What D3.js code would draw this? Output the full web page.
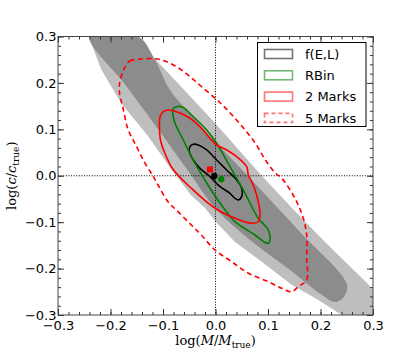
<!DOCTYPE html>
<html>
<head>
<meta charset="utf-8">
<script src="https://cdn.jsdelivr.net/npm/d3@7"></script>
<style>
  body { margin: 0; background: #fff; }
  svg text { font-family: "DejaVu Sans", sans-serif; }
</style>
</head>
<body>
<div id="chart"></div>
<script>
// ---- data (log M/Mtrue, log c/ctrue) ----
var lightBand = [[-0.2415,0.300],[-0.2181,0.230],[-0.180,0.1567],[-0.1286,0.0856],[-0.0848,0.0145],
  [-0.0467,-0.0415],[-0.020,-0.0695],[0.001,-0.0997],[0.0371,-0.1428],[0.0886,-0.1859],[0.1457,-0.2354],
  [0.1895,-0.2634],[0.241,-0.300],[0.300,-0.300],[0.300,-0.2461],[0.2905,-0.2332],[0.2086,-0.1428],
  [0.1457,-0.0695],[0.0886,-0.0005],[-0.001,0.1136],[-0.0524,0.1761],[-0.1095,0.2451],[-0.1419,0.286],[-0.1476,0.300]];

var darkBand = [[-0.2396,0.300],[-0.1724,0.1971],[-0.1095,0.1007],[-0.0467,0.0016],[-0.001,-0.0695],
  [0.0657,-0.1384],[0.1419,-0.2031],[0.2029,-0.2569],[0.2276,-0.272],[0.2429,-0.2634],[0.2505,-0.2354],
  [0.161,-0.1212],[0.060,0.0016],[0.0143,0.0555],[-0.0429,0.1266],[-0.0867,0.1847],[-0.1152,0.2494],[-0.1476,0.300]];

var fEL = [[-0.0486,0.0626],[-0.0423,0.0678],[-0.0328,0.0662],[-0.0168,0.0555],[0.0023,0.0339],[0.0213,0.0124],
  [0.0404,-0.0091],[0.0499,-0.027],[0.0499,-0.0451],[0.0434,-0.0522],[0.0371,-0.0486],[0.0276,-0.0378],
  [0.0086,-0.0236],[-0.0105,-0.002],[-0.0295,0.016],[-0.0423,0.0339],[-0.0499,0.0518]];

var rBin = [[-0.0804,0.1453],[-0.0644,0.1488],[-0.0423,0.1272],[-0.0168,0.0986],[0.0023,0.0699],[0.0276,0.0195],
  [0.053,-0.0307],[0.0815,-0.0917],[0.1006,-0.1169],[0.1038,-0.1384],[0.1006,-0.1455],[0.0943,-0.1438],
  [0.0752,-0.1276],[0.0371,-0.099],[0.0086,-0.0587],[-0.0168,-0.0156],[-0.0423,0.0339],[-0.0613,0.077],
  [-0.0771,0.113],[-0.0815,0.1345]];

var twoMarks = [[-0.0994,0.138],[-0.0899,0.1416],[-0.0739,0.138],[-0.0486,0.1238],[-0.0295,0.1057],[-0.0105,0.0807],
  [0.0023,0.0662],[0.0213,0.0555],[0.0404,0.041],[0.0594,0.0195],[0.0625,0.0016],[0.072,-0.0199],[0.0815,-0.0559],
  [0.0848,-0.0846],[0.0815,-0.099],[0.069,-0.1024],[0.0371,-0.0917],[-0.001,-0.0701],[-0.0461,-0.027],
  [-0.081,0.0139],[-0.0968,0.0497],[-0.1048,0.077],[-0.1067,0.1029],[-0.1057,0.1266]];

var fiveMarks = [[-0.173,0.2328],[-0.1634,0.2472],[-0.1476,0.2509],[-0.1158,0.2522],[-0.0968,0.2472],[-0.0714,0.2328],
  [-0.0461,0.2112],[-0.0206,0.1862],[0.0053,0.161],[0.0244,0.1395],[0.0499,0.1072],[0.0752,0.0712],[0.0943,0.0354],
  [0.1133,0.0066],[0.1261,-0.0055],[0.1514,-0.0486],[0.1672,-0.0917],[0.1737,-0.1276],[0.1737,-0.1778],
  [0.1737,-0.2246],[0.1577,-0.239],[0.1451,-0.2498],[0.1261,-0.2425],[0.1006,-0.2282],[0.0625,-0.2101],
  [0.0309,-0.1852],[-0.001,-0.160],[-0.027,-0.1276],[-0.0461,-0.1061],[-0.0714,-0.0774],[-0.0905,-0.0559],
  [-0.1095,-0.0199],[-0.119,-0.0005],[-0.1349,0.0281],[-0.1509,0.0641],[-0.1667,0.1001],[-0.1762,0.1466],
  [-0.1825,0.1755],[-0.1825,0.2004]];

// best-fit points
var bestFits = [
  {name: "2 Marks", x: -0.0105, y: 0.0135, shape: "square", color: "#ff0000"},
  {name: "f(E,L)", x: -0.0023, y: -0.0005, shape: "circle", color: "#000000"},
  {name: "RBin", x: 0.011, y: -0.0077, shape: "circle", color: "#008000"}
];

var majorTicks = [-0.3, -0.2, -0.1, 0.0, 0.1, 0.2, 0.3];
var minorTicks = d3.range(-15, 16).map(function(i){ return +(i*0.02).toFixed(2); });

var legendItems = [
  {label: "f(E,L)", color: "#000000", dash: null},
  {label: "RBin", color: "#008000", dash: null},
  {label: "2 Marks", color: "#ff0000", dash: null},
  {label: "5 Marks", color: "#ff0000", dash: "4,3"}
];

// ---- layout ----
var W = 415, H = 363;
var pL = 58, pR = 373, pT = 36.5, pB = 315;

var svg = d3.select("#chart").append("svg")
  .attr("width", W).attr("height", H);

var x = d3.scaleLinear().domain([-0.3, 0.3]).range([pL, pR]);
var y = d3.scaleLinear().domain([-0.3, 0.3]).range([pB, pT]);

svg.append("clipPath").attr("id", "plotclip")
  .append("rect").attr("x", pL).attr("y", pT)
  .attr("width", pR - pL).attr("height", pB - pT);

var plot = svg.append("g").attr("clip-path", "url(#plotclip)");

var poly = d3.line().x(function(d){ return x(d[0]); }).y(function(d){ return y(d[1]); })
  .curve(d3.curveLinearClosed);
var smooth = d3.line().x(function(d){ return x(d[0]); }).y(function(d){ return y(d[1]); })
  .curve(d3.curveCatmullRomClosed.alpha(0.5));

plot.append("path").attr("d", poly(lightBand)).attr("fill", "#bebebe");
plot.append("path").attr("d", smooth(darkBand)).attr("fill", "#8c8c8c");

// dotted crosshair through the true values
plot.append("line").attr("x1", x(0)).attr("x2", x(0)).attr("y1", pT).attr("y2", pB)
  .attr("stroke", "#000").attr("stroke-width", 1).attr("stroke-dasharray", "1,1.6");
plot.append("line").attr("x1", pL).attr("x2", pR).attr("y1", y(0)).attr("y2", y(0))
  .attr("stroke", "#000").attr("stroke-width", 1).attr("stroke-dasharray", "1,1.6");

// contours
plot.append("path").attr("d", smooth(fEL)).attr("fill", "none").attr("stroke", "#000").attr("stroke-width", 1.6);
plot.append("path").attr("d", smooth(rBin)).attr("fill", "none").attr("stroke", "#008000").attr("stroke-width", 1.6);
plot.append("path").attr("d", smooth(twoMarks)).attr("fill", "none").attr("stroke", "#ff0000").attr("stroke-width", 1.6);
plot.append("path").attr("d", smooth(fiveMarks)).attr("fill", "none").attr("stroke", "#ff0000")
  .attr("stroke-width", 1.6).attr("stroke-dasharray", "5,3.5");

// best-fit markers
bestFits.forEach(function(p){
  if (p.shape === "square") {
    plot.append("rect").attr("x", x(p.x) - 3).attr("y", y(p.y) - 3)
      .attr("width", 6).attr("height", 6).attr("fill", p.color);
  } else {
    plot.append("circle").attr("cx", x(p.x)).attr("cy", y(p.y)).attr("r", 3.2).attr("fill", p.color);
  }
});

// ---- axes, ticks inward on all sides ----
function styleAxis(g){
  g.select(".domain").remove();
  g.selectAll(".tick line").attr("stroke", "#333");
  g.selectAll(".tick text").attr("fill", "#000").style("font-size", "13px")
    .style("font-family", "'DejaVu Sans', sans-serif");
}
function fmt(d){ return d3.format(".1f")(d).replace("-", "\u2212"); }

svg.append("g").attr("transform", "translate(0," + pB + ")")
  .call(d3.axisBottom(x).tickValues(majorTicks).tickFormat(fmt).tickSizeInner(-6).tickSizeOuter(0).tickPadding(6))
  .call(styleAxis);
svg.append("g").attr("transform", "translate(0," + pB + ")")
  .call(d3.axisBottom(x).tickValues(minorTicks).tickFormat("").tickSizeInner(-3).tickSizeOuter(0)).call(styleAxis);
svg.append("g").attr("transform", "translate(0," + pT + ")")
  .call(d3.axisTop(x).tickValues(majorTicks).tickFormat("").tickSizeInner(-6).tickSizeOuter(0)).call(styleAxis);
svg.append("g").attr("transform", "translate(0," + pT + ")")
  .call(d3.axisTop(x).tickValues(minorTicks).tickFormat("").tickSizeInner(-3).tickSizeOuter(0)).call(styleAxis);

svg.append("g").attr("transform", "translate(" + pL + ",0)")
  .call(d3.axisLeft(y).tickValues(majorTicks).tickFormat(fmt).tickSizeInner(-6).tickSizeOuter(0).tickPadding(1.5))
  .call(styleAxis);
svg.append("g").attr("transform", "translate(" + pL + ",0)")
  .call(d3.axisLeft(y).tickValues(minorTicks).tickFormat("").tickSizeInner(-3).tickSizeOuter(0)).call(styleAxis);
svg.append("g").attr("transform", "translate(" + pR + ",0)")
  .call(d3.axisRight(y).tickValues(majorTicks).tickFormat("").tickSizeInner(-6).tickSizeOuter(0)).call(styleAxis);
svg.append("g").attr("transform", "translate(" + pR + ",0)")
  .call(d3.axisRight(y).tickValues(minorTicks).tickFormat("").tickSizeInner(-3).tickSizeOuter(0)).call(styleAxis);

// frame
svg.append("rect").attr("x", pL).attr("y", pT).attr("width", pR - pL).attr("height", pB - pT)
  .attr("fill", "none").attr("stroke", "#444").attr("stroke-width", 1);

// axis labels
var xl = svg.append("text").attr("x", (pL + pR) / 2).attr("y", 345)
  .attr("text-anchor", "middle").style("font-family", "'DejaVu Serif', serif").style("font-size", "13px");
xl.append("tspan").text("log(");
xl.append("tspan").style("font-style", "italic").text("M");
xl.append("tspan").text("/");
xl.append("tspan").style("font-style", "italic").text("M");
xl.append("tspan").attr("dy", 3).style("font-size", "9px").text("true");
xl.append("tspan").attr("dy", -3).text(")");

var yl = svg.append("text").attr("transform", "translate(16," + ((pT + pB) / 2) + ") rotate(-90)")
  .attr("text-anchor", "middle").style("font-family", "'DejaVu Serif', serif").style("font-size", "13px");
yl.append("tspan").text("log(");
yl.append("tspan").style("font-style", "italic").text("c");
yl.append("tspan").text("/");
yl.append("tspan").style("font-style", "italic").text("c");
yl.append("tspan").attr("dy", 3).style("font-size", "9px").text("true");
yl.append("tspan").attr("dy", -3).text(")");

// legend
var lg = svg.append("g");
lg.append("rect").attr("x", 257.5).attr("y", 42.5).attr("width", 108.5).attr("height", 84)
  .attr("fill", "#fff").attr("stroke", "#000").attr("stroke-width", 1);
legendItems.forEach(function(d, i){
  var cy = 54 + i * 21.3;
  lg.append("rect").attr("x", 264.5).attr("y", cy - 4.5).attr("width", 28).attr("height", 9)
    .attr("fill", "none").attr("stroke", d.color).attr("stroke-opacity", 0.55).attr("stroke-width", 1.6)
    .attr("stroke-dasharray", d.dash);
  lg.append("text").attr("x", 305).attr("y", cy + 4.8).style("font-size", "13px").text(d.label);
});
</script>
</body>
</html>
